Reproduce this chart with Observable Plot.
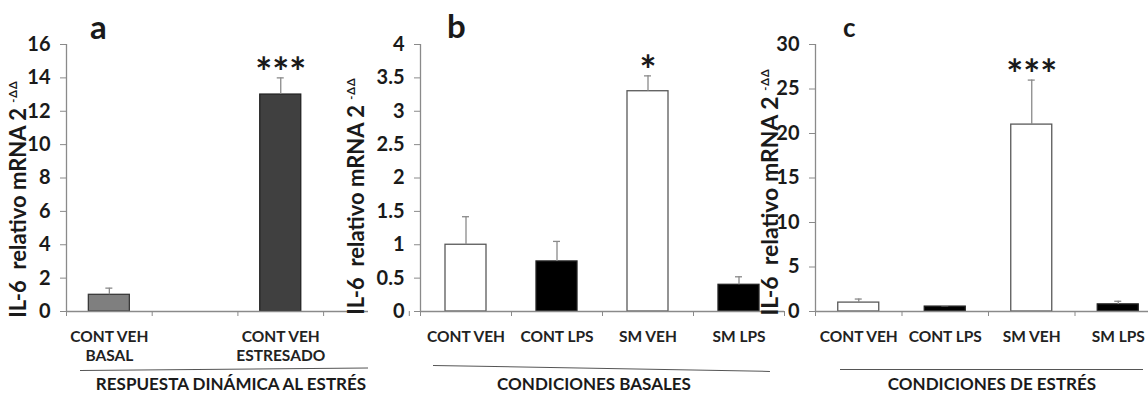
<!DOCTYPE html>
<html><head><meta charset="utf-8">
<script src="https://cdn.jsdelivr.net/npm/d3@7"></script>
<script src="https://cdn.jsdelivr.net/npm/@observablehq/plot@0.6"></script>
<style>
body{margin:0;background:#fff;}
#wrap{position:relative;width:1148px;height:393px;overflow:hidden;font-family:Lato,"Open Sans",sans-serif;font-weight:700;color:#1a1a1a;}
.panel{position:absolute;top:0;}
.ttl{position:absolute;font-weight:700;line-height:1;}
.ylab{position:absolute;white-space:pre;line-height:1;transform:translate(-50%,-50%) rotate(-90deg);}
.ylab sup{font-size:11px;vertical-align:9px;letter-spacing:1px;}
.grp{position:absolute;font-size:17px;white-space:pre;line-height:1;transform:translate(-50%,-50%);}
.gline{position:absolute;height:0;border-top:1.3px solid #555;transform-origin:0 0;}
</style></head><body><div id="wrap"></div>
<script>
// ---- data ----
const catsA = ["CONT VEH\nBASAL", "", "CONT VEH\nESTRESADO", ""];
const valsA = [1.0, null, 13.0, null];
const errsA = [0.4, null, 1.0, null];
const sigA  = ["", "", "***", ""];
const fillsA = ["#7f7f7f", null, "#404040", null];
const ticksA = [0, 2, 4, 6, 8, 10, 12, 14, 16];

const catsB = ["CONT VEH", "CONT LPS", "SM VEH", "SM LPS"];
const valsB = [1.0, 0.75, 3.3, 0.4];
const errsB = [0.42, 0.3, 0.23, 0.12];
const sigB  = ["", "", "*", ""];
const fillsB = ["white", "black", "white", "black"];
const ticksB = [0, 0.5, 1, 1.5, 2, 2.5, 3, 3.5, 4];

const catsC = ["CONT VEH", "CONT LPS", "SM VEH", "SM LPS"];
const valsC = [1.0, 0.55, 21.0, 0.8];
const errsC = [0.4, 0.1, 5.0, 0.35];
const sigC  = ["", "", "***", ""];
const fillsC = ["white", "black", "white", "black"];
const ticksC = [0, 5, 10, 15, 20, 25, 30];

const titles = ["a", "b", "c"];
const groups = ["RESPUESTA DINÁMICA AL ESTRÉS", "CONDICIONES BASALES", "CONDICIONES DE ESTRÉS"];
const yLabel = "IL-6  relativo mRNA 2";
const ySup = "-ΔΔ";

const wrap = document.getElementById("wrap");

function panel({cats, vals, errs, sig, fills, ticks, left, width, marginLeft, band}) {
  const n = cats.length;
  const rows = cats.map((c, i) => ({i, c, v: vals[i], e: errs[i], s: sig[i], f: fills[i],
    st: fills[i] === "white" ? "#595959" : (fills[i] === "#7f7f7f" ? "#3a3a3a" : "#222")}));
  const bars = rows.filter(d => d.v != null);
  const cap = 3.5 / band;
  const inset = (band - 41) / 2;
  const p = Plot.plot({
    width, height: 393,
    marginLeft, marginRight: 0, marginTop: 44, marginBottom: 82,
    style: {fontFamily: "Lato, 'Open Sans', sans-serif", fontWeight: 700, fontSize: "18px", color: "#1a1a1a", background: "transparent", overflow: "visible"},
    x: {type: "linear", domain: [0, n], range: [marginLeft, marginLeft + n * band], label: null},
    y: {domain: [0, ticks[ticks.length - 1]], label: null},
    color: {type: "identity"},
    marks: [
      Plot.axisY({ticks, tickSize: 6, tickPadding: 10, stroke: "#8a8a8a", fill: "#1a1a1a", tickFormat: d => String(d), label: null, fontSize: 20}),
      Plot.axisX({ticks: d3.range(0, n + 1), tickSize: 5, tickFormat: () => "", stroke: "#8a8a8a", label: null}),
      Plot.rectY(bars, {x1: "i", x2: d => d.i + 1, y1: 0, y2: "v", insetLeft: inset, insetRight: inset, fill: "f", stroke: "st", strokeWidth: 1.3}),
      Plot.ruleX(bars, {x: d => d.i + 0.5, y1: "v", y2: d => d.v + d.e, stroke: "#8a8a8a", strokeWidth: 1.3}),
      Plot.ruleY(bars, {y: d => d.v + d.e, x1: d => d.i + 0.5 - cap, x2: d => d.i + 0.5 + cap, stroke: "#8a8a8a", strokeWidth: 1.3}),
      Plot.ruleY([0], {stroke: "#8a8a8a", strokeWidth: 1.3}),
      Plot.ruleX([0], {stroke: "#8a8a8a", strokeWidth: 1.3}),
      Plot.text(bars.filter(d => d.s), {x: d => d.i + 0.5, y: d => d.v + d.e, text: "s", lineAnchor: "bottom", dy: 9, fontSize: 40, fill: "#1a1a1a"}),
      Plot.text(rows.filter(d => d.c), {x: d => d.i + 0.5, y: 0, text: "c", lineAnchor: "top", dy: 17, fontSize: 15.5, lineHeight: 1.24, fill: "#222"})
    ]
  });
  p.classList.add("panel");
  p.style.left = left + "px";
  wrap.appendChild(p);
}

panel({cats: catsA, vals: valsA, errs: errsA, sig: sigA, fills: fillsA, ticks: ticksA, left: 0, width: 368, marginLeft: 66, band: 85.7});
panel({cats: catsB, vals: valsB, errs: errsB, sig: sigB, fills: fillsB, ticks: ticksB, left: 370, width: 414, marginLeft: 50, band: 91});
panel({cats: catsC, vals: valsC, errs: errsC, sig: sigC, fills: fillsC, ticks: ticksC, left: 770, width: 378, marginLeft: 45, band: 86.5});

// titles
const tpos = [[90, 10, 33], [447, 9, 33], [843, 14, 26]];
titles.forEach((t, k) => {
  const d = document.createElement("div");
  d.className = "ttl"; d.textContent = t;
  d.style.left = tpos[k][0] + "px"; d.style.top = tpos[k][1] + "px"; d.style.fontSize = tpos[k][2] + "px";
  wrap.appendChild(d);
});

// y labels
const ypos = [[18, 199, 22], [356, 196, 22], [769, 192, 23]];
ypos.forEach(([x, y, fs]) => {
  const d = document.createElement("div");
  d.className = "ylab";
  d.style.left = x + "px"; d.style.top = y + "px"; d.style.fontSize = fs + "px";
  d.textContent = yLabel + " ";
  const s = document.createElement("sup"); s.textContent = ySup; d.appendChild(s);
  wrap.appendChild(d);
});

// group underline + label
const glines = [[80, 369.5, 288, -0.5], [433, 365, 337, 1.0], [840, 369, 303, 0]];
glines.forEach(([x, y, w, a]) => {
  const d = document.createElement("div");
  d.className = "gline";
  d.style.left = x + "px"; d.style.top = y + "px"; d.style.width = w + "px";
  d.style.transform = `rotate(${a}deg)`;
  wrap.appendChild(d);
});
const gpos = [[231, 383], [594, 383], [992, 383]];
groups.forEach((g, k) => {
  const d = document.createElement("div");
  d.className = "grp"; d.textContent = g;
  d.style.left = gpos[k][0] + "px"; d.style.top = gpos[k][1] + "px";
  wrap.appendChild(d);
});
</script></body></html>
